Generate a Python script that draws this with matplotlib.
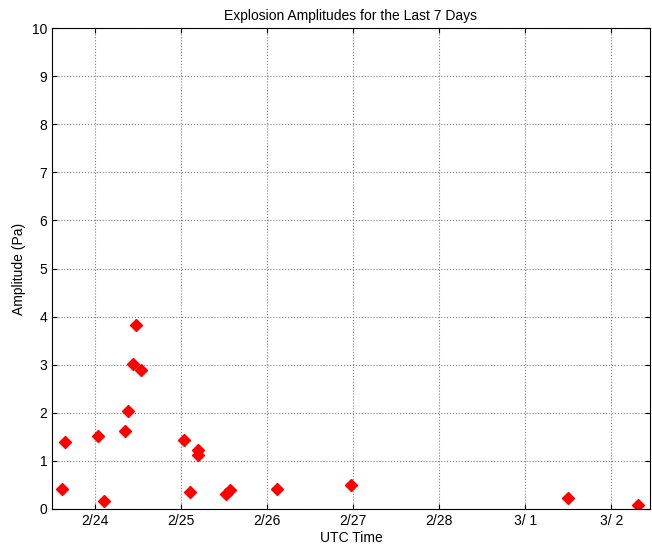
import matplotlib
matplotlib.use("Agg")
import matplotlib.pyplot as plt

plt.rcParams['font.family'] = ['Liberation Sans', 'DejaVu Sans']

# time in days after 2/24 00:00 UTC
t_days = [-0.38, -0.35, 0.03, 0.10, 0.35, 0.38, 0.44, 0.48, 0.53,
          1.03, 1.10, 1.20, 1.20, 1.52, 1.57, 2.12, 2.98, 5.50, 6.31]
amp = [0.42, 1.39, 1.52, 0.17, 1.63, 2.04, 3.01, 3.82, 2.89,
       1.43, 0.35, 1.23, 1.12, 0.31, 0.39, 0.42, 0.50, 0.23, 0.08]

tick_pos = [0, 1, 2, 3, 4, 5, 6]
tick_labels = ['2/24', '2/25', '2/26', '2/27', '2/28', '3/ 1', '3/ 2']

fig = plt.figure(figsize=(6.52, 5.46), dpi=100)
ax = fig.add_axes([52 / 652, 1 - 509 / 546, 598 / 652, 481 / 546])

ax.plot(t_days, amp, 'D', color='red', markersize=6, markeredgecolor='red')

ax.set_xlim(-0.5, 6.45)
ax.set_ylim(0, 10)
ax.set_xticks(tick_pos)
ax.set_xticklabels(tick_labels)
ax.set_yticks(range(11))
ax.grid(True, linestyle=':', color='gray', linewidth=0.8)
ax.tick_params(direction='in', labelsize=10, top=True, right=True)

ax.set_title('Explosion Amplitudes for the Last 7 Days', fontsize=10)
ax.set_xlabel('UTC Time', fontsize=10, labelpad=2)
ax.set_ylabel('Amplitude (Pa)', fontsize=10)

fig.savefig('out.png', dpi=100)
